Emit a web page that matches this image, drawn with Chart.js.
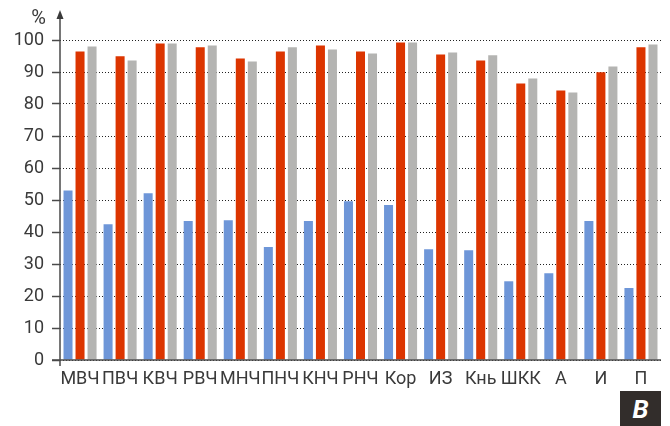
<!DOCTYPE html>
<html>
<head>
<meta charset="utf-8">
<script src="https://cdn.jsdelivr.net/npm/chart.js@4"></script>
<style>
  html, body { margin: 0; padding: 0; background: #fff; }
  #wrap { position: relative; width: 670px; height: 426px; }
  #badge {
    position: absolute; left: 620px; top: 391px; width: 41px; height: 35px;
    background: #322d2b; color: #fff; font: italic bold 26px "Roboto", sans-serif;
    text-align: center; line-height: 36px;
  }
</style>
</head>
<body>
<div id="wrap">
  <canvas id="grafica" width="670" height="426"></canvas>
  <div id="badge">В</div>
</div>
<script>
// categorias y valores
const categorias = ['МВЧ', 'ПВЧ', 'КВЧ', 'РВЧ', 'МНЧ', 'ПНЧ', 'КНЧ', 'РНЧ', 'Кор', 'ИЗ', 'Кнь', 'ШКК', 'А', 'И', 'П'];
const serieAzul = [53.0, 42.4, 52.1, 43.4, 43.7, 35.3, 43.4, 49.6, 48.4, 34.6, 34.3, 24.6, 27.1, 43.4, 22.5];
const serieRoja = [96.4, 94.9, 98.9, 97.7, 94.2, 96.4, 98.3, 96.4, 99.2, 95.5, 93.6, 86.4, 84.2, 89.9, 97.7];
const serieGris = [98.0, 93.6, 98.9, 98.3, 93.3, 97.7, 97.0, 95.8, 99.2, 96.1, 95.2, 88.0, 83.6, 91.7, 98.6];
const ticksY = [0, 10, 20, 30, 40, 50, 60, 70, 80, 90, 100];

const colorTexto = '#3a3a3a';

// dibuja los ejes con la flecha y el signo de porcentaje
const ejes = {
    id: 'ejes',
    afterDraw(chart) {
        const ctx = chart.ctx;
        const area = chart.chartArea;
        const y0 = chart.scales.y.getPixelForValue(0);
        ctx.save();
        ctx.strokeStyle = '#4a4a4a';
        ctx.lineWidth = 1.5;
        ctx.beginPath();
        ctx.moveTo(area.left - 8, y0);
        ctx.lineTo(area.right, y0);
        ctx.moveTo(area.left, y0 + 6);
        ctx.lineTo(area.left, 16);
        ctx.stroke();
        ctx.fillStyle = '#3a3a3a';
        ctx.beginPath();
        ctx.moveTo(area.left, 10);
        ctx.lineTo(area.left - 3.5, 19);
        ctx.lineTo(area.left + 3.5, 19);
        ctx.closePath();
        ctx.fill();
        ctx.fillStyle = colorTexto;
        ctx.font = '20px Roboto';
        ctx.textAlign = 'right';
        ctx.textBaseline = 'middle';
        ctx.fillText('%', 46, 19);
        ctx.restore();
    }
};

window.onload = function () {
    const ctx = document.getElementById('grafica').getContext('2d');
    new Chart(ctx, {
        type: 'bar',
        data: {
            labels: categorias,
            datasets: [
                { data: serieAzul, backgroundColor: '#6e96d8' },
                { data: serieRoja, backgroundColor: '#dc3500' },
                { data: serieGris, backgroundColor: '#b4b4b2' }
            ]
        },
        options: {
            responsive: false,
            animation: false,
            layout: { padding: { top: 40, right: 9, left: 0, bottom: 0 } },
            datasets: { bar: { categoryPercentage: 0.9, barPercentage: 0.75 } },
            plugins: { legend: { display: false }, tooltip: { enabled: false } },
            scales: {
                x: {
                    grid: { display: false },
                    border: { display: false },
                    ticks: {
                        autoSkip: false, maxRotation: 0, padding: 1,
                        color: colorTexto, font: { family: 'Roboto', size: 18 }
                    },
                    afterFit(scale) { scale.height = 66; }
                },
                y: {
                    min: 0, max: 100,
                    afterBuildTicks(scale) { scale.ticks = ticksY.map(v => ({ value: v })); },
                    grid: {
                        color: '#222', lineWidth: 1, tickLength: 8,
                        tickColor: '#4a4a4a', tickWidth: 1.5, tickBorderDash: []
                    },
                    border: { display: false, dash: [1, 2] },
                    ticks: {
                        padding: 8, color: colorTexto, font: { family: 'Roboto', size: 18 }
                    },
                    afterFit(scale) { scale.width = 60; }
                }
            }
        },
        plugins: [ejes]
    });
};
</script>
</body>
</html>
